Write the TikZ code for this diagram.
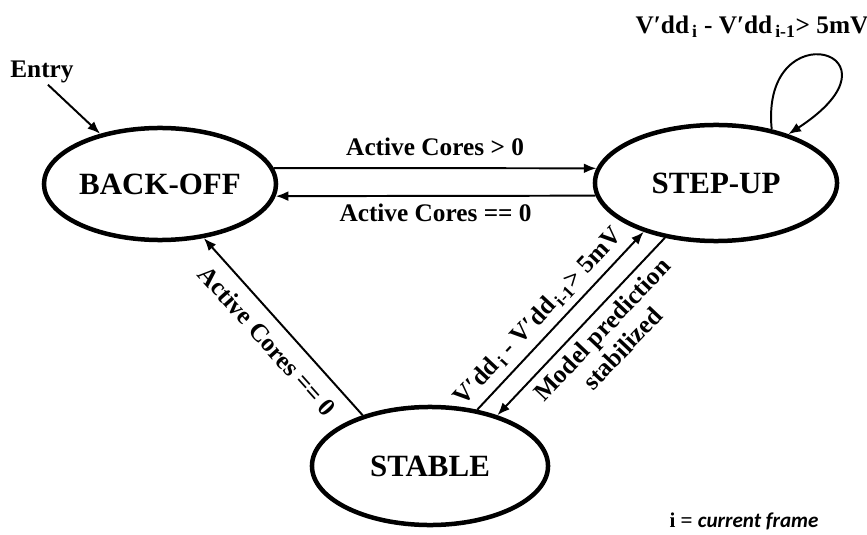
\documentclass[tikz,border=0pt]{standalone}
\usepackage{fontspec}
\setmainfont{Liberation Serif}
\newfontfamily\notefont{Carlito}
\usetikzlibrary{shapes.geometric,arrows.meta}

\tikzset{
  state/.style={draw, ellipse, line width=3.2pt, font=\fontsize{22}{24}\selectfont\bfseries, inner sep=0pt},
  trans/.style={-{Latex[length=9pt,width=7pt]}, line width=1.4pt},
  lbl/.style={font=\fontsize{18}{20}\selectfont\bfseries, inner sep=1pt}
}

\begin{document}
\begin{tikzpicture}[x=0.025cm,y=0.025cm]
            \useasboundingbox (0,0) rectangle (867,534);
            % states
            \node[state, minimum width=5.8cm, minimum height=2.8cm] (backoff) at (160,350) {BACK-OFF};
            \node[state, minimum width=6.05cm, minimum height=2.9cm] (stepup) at (716,351) {STEP-UP};
            \node[state, minimum width=5.9cm, minimum height=2.95cm] (stable) at (430,68) {STABLE};
            \node[lbl] (entry) at (42,462) {Entry};
            % transitions
            \draw[trans] (entry.-65) -- (backoff.140);
            \draw[trans] (backoff.8) -- node[lbl, above=7pt] {Active Cores > 0} (stepup.173);
            \draw[trans] (stepup.186) -- node[lbl, below=4pt] {Active Cores == 0} (backoff.-6.5);
            \draw[trans] (stable.143) -- node[lbl, sloped, below=7pt, pos=0.5] {Active Cores == 0} (backoff.-51);
            \draw[trans] (stable.50) -- node[lbl, sloped, above=4pt, pos=0.45]
                {V′dd\textsubscript{\,i} - V′dd\textsubscript{\,i-1}> 5mV} (stepup.214);
            \draw[trans] (stepup.227.5) -- node[lbl, sloped, below=4pt, pos=0.45, align=center]
                {Model prediction\\stabilized} (stable.37);
            \draw[trans] (stepup.44) .. controls (760,525) and (915,482) .. (stepup.34.6);
            \node[lbl] (loop) at (752,507) {V′dd\textsubscript{\,i} - V′dd\textsubscript{\,i-1}> 5mV};
            \node[font=\fontsize{15}{17}\selectfont\bfseries] (note) at (744,13) {i = {\notefont\itshape current frame}};
        \end{tikzpicture}
\end{document}
